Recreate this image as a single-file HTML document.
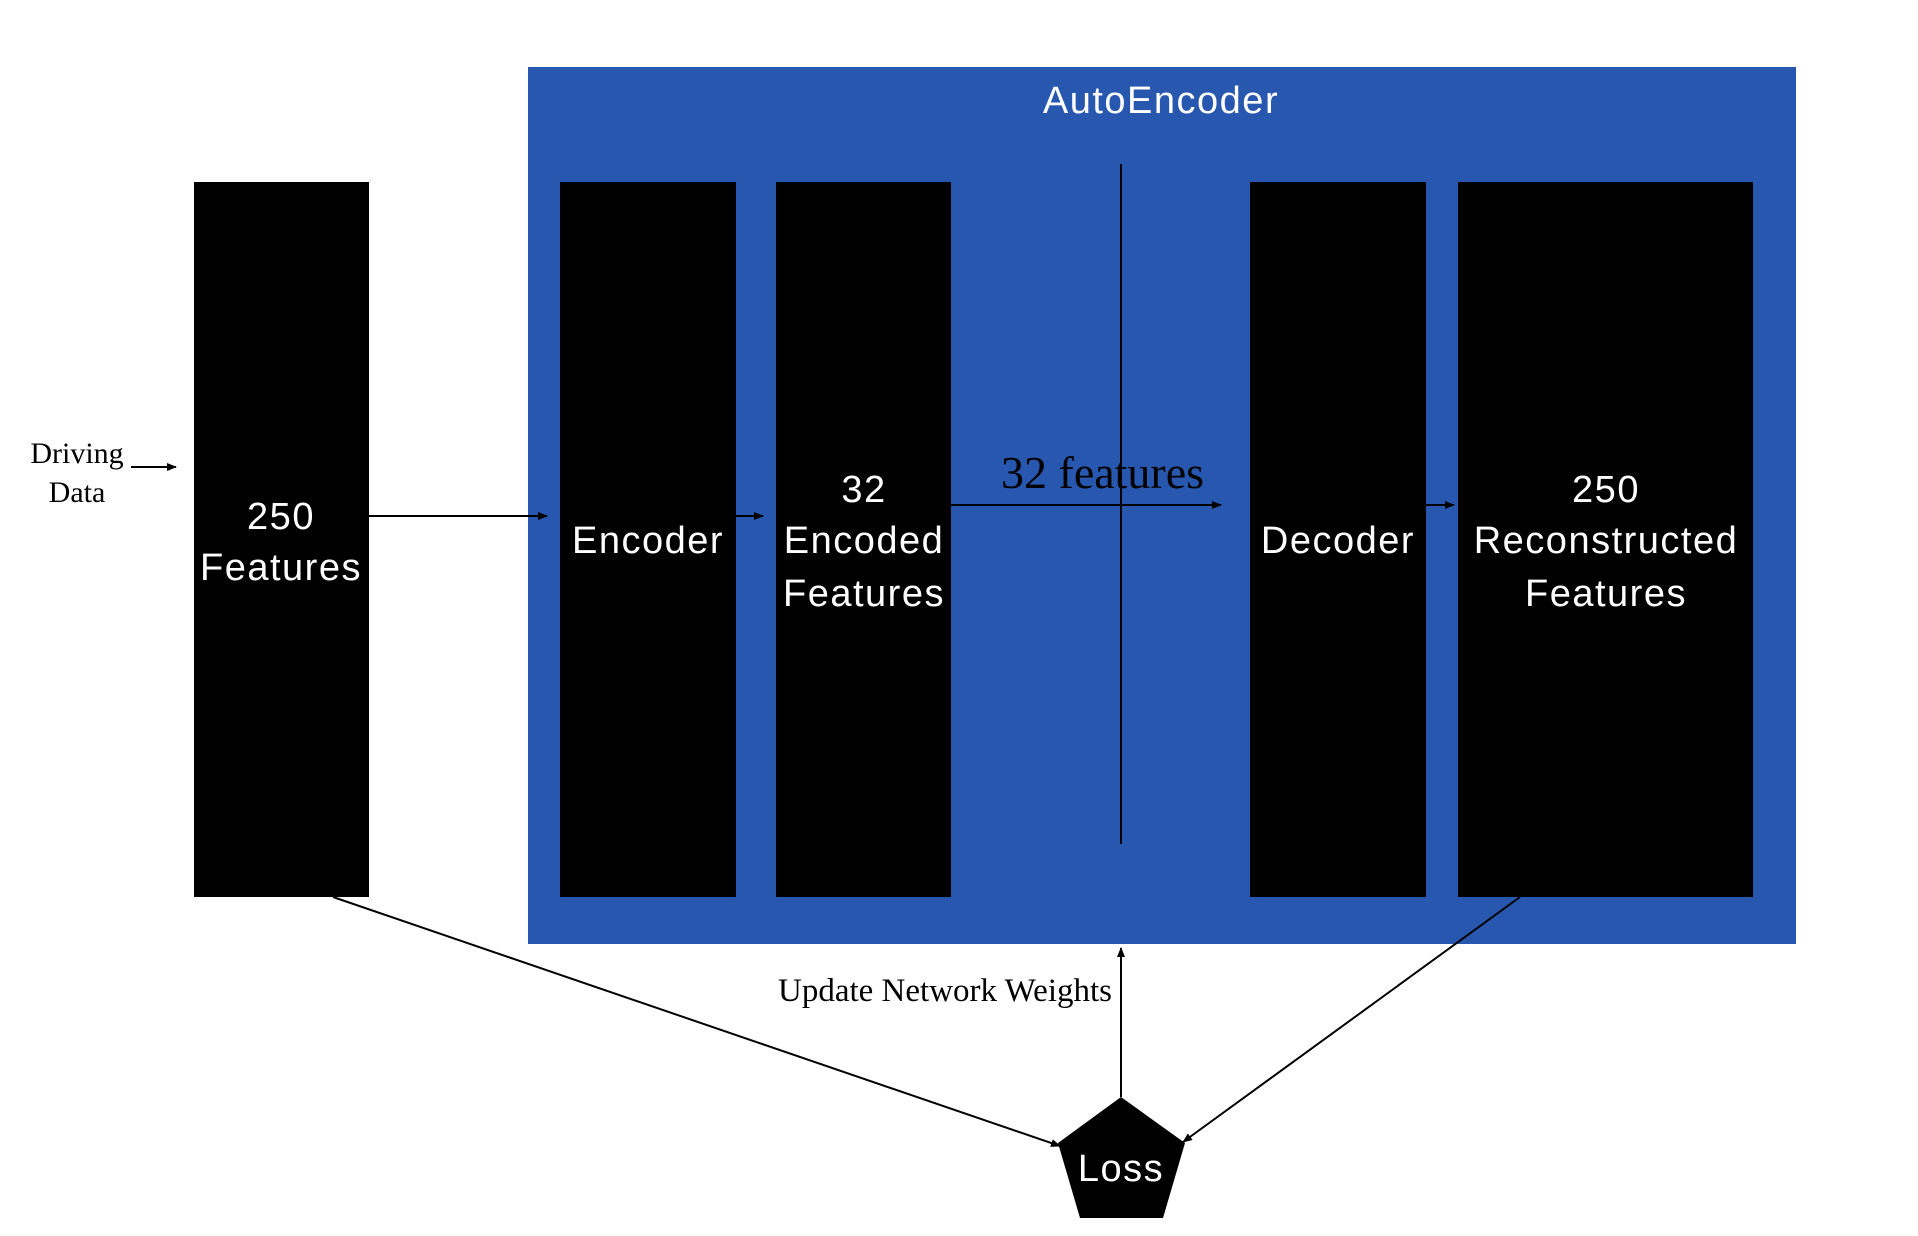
<!DOCTYPE html>
<html><head><style>
html,body{margin:0;padding:0;background:#fff;}
svg{display:block;}
.w{font-family:"Liberation Sans","DejaVu Sans",sans-serif;fill:#fff;font-size:38px;letter-spacing:1.5px;text-anchor:middle;}
.s{font-family:"Liberation Serif",serif;fill:#000;}
</style></head><body>
<svg width="1918" height="1236" viewBox="0 0 1918 1236" xmlns="http://www.w3.org/2000/svg">
<defs>
<marker id="a" markerWidth="10" markerHeight="8" refX="9" refY="4" orient="auto" markerUnits="userSpaceOnUse">
<path d="M0,0 L10,4 L0,8 z" fill="#000"/></marker>
</defs>
<rect x="528" y="67" width="1268" height="877" fill="#2757ae"/>
<text x="1161" y="113" class="w">AutoEncoder</text>
<rect x="194" y="182" width="175" height="715" fill="#000"/>
<rect x="560" y="182" width="176" height="715" fill="#000"/>
<rect x="776" y="182" width="175" height="715" fill="#000"/>
<rect x="1250" y="182" width="176" height="715" fill="#000"/>
<rect x="1458" y="182" width="295" height="715" fill="#000"/>
<line x1="1121" y1="164" x2="1121" y2="844" stroke="#000" stroke-width="2"/>
<text class="w"><tspan x="281" y="529">250</tspan><tspan x="281" y="580">Features</tspan></text>
<text x="648" y="553" class="w">Encoder</text>
<text class="w"><tspan x="864" y="502">32</tspan><tspan x="864" y="553">Encoded</tspan><tspan x="864" y="606">Features</tspan></text>
<text x="1338" y="553" class="w">Decoder</text>
<text class="w"><tspan x="1606" y="502">250</tspan><tspan x="1606" y="553">Reconstructed</tspan><tspan x="1606" y="606">Features</tspan></text>
<text x="1001" y="488" class="s" font-size="46">32 features</text>
<line x1="369" y1="516" x2="547" y2="516" stroke="#000" stroke-width="2" marker-end="url(#a)"/>
<line x1="736" y1="516" x2="763" y2="516" stroke="#000" stroke-width="2" marker-end="url(#a)"/>
<line x1="951" y1="505" x2="1221" y2="505" stroke="#000" stroke-width="2" marker-end="url(#a)"/>
<line x1="1426" y1="505" x2="1454" y2="505" stroke="#000" stroke-width="2" marker-end="url(#a)"/>
<text x="77" y="463" class="s" font-size="30" text-anchor="middle">Driving</text>
<text x="77" y="502" class="s" font-size="30" text-anchor="middle">Data</text>
<line x1="131" y1="467" x2="176" y2="467" stroke="#000" stroke-width="2" marker-end="url(#a)"/>
<polygon points="1121,1097 1185,1143 1163,1218 1080,1218 1058,1143" fill="#000"/>
<text x="1121" y="1181" class="w">Loss</text>
<line x1="333" y1="897" x2="1060" y2="1146" stroke="#000" stroke-width="2" marker-end="url(#a)"/>
<line x1="1520" y1="897" x2="1183" y2="1142" stroke="#000" stroke-width="2" marker-end="url(#a)"/>
<line x1="1121" y1="1097" x2="1121" y2="948" stroke="#000" stroke-width="2" marker-end="url(#a)"/>
<text x="1112" y="1001" class="s" font-size="33" text-anchor="end">Update Network Weights</text>
</svg>
</body></html>
